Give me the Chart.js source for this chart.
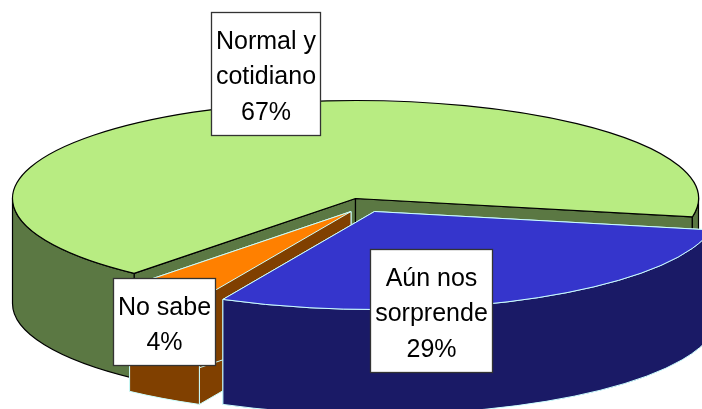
<!DOCTYPE html>
<html>
<head>
<meta charset="utf-8">
<style>html,body{margin:0;padding:0;background:#fff}canvas{display:block}</style>
<script src="https://cdn.jsdelivr.net/npm/chart.js@4"></script>
</head>
<body>
<canvas id="c" width="702" height="409"></canvas>
<script>
// Data
const categories = ['Normal y\ncotidiano', 'Aún nos\nsorprende', 'No sabe'];
const values = [66.85, 29.27, 3.88];

// Styles
const topColors = ['#B8EC82', '#3535CC', '#FF8000'];
const wallColors = ['#5B7843', '#1A1A66', '#804000'];
const lineColors = ['#000000', '#CCFFFF', '#CCFFFF'];
const lineWidths = [1.2, 1, 1];
const paintOrder = [0, 2, 1];

// 3D projection
const RADIUS = 343, SQUASH = 98 / 343, DEPTH = 105;
const explodeX = [0, 19, -4.5];
const explodeY = [0, 13, 13];

// Label boxes: left, top, width, height
const labelBoxes = [[211, 12, 110, 124], [370, 249, 123, 124], [113, 278, 103, 88]];

const pie3d = {
  id: 'pie3d',
  afterDatasetsUpdate(chart) {
    const arcs = chart.getDatasetMeta(0).data;
    arcs.forEach((arc, i) => {
      arc.baseY = arc.y;
      arc.x += explodeX[i];
      arc.y += explodeY[i] / SQUASH;
    });
  },
  beforeDatasetsDraw(chart) {
    const ctx = chart.ctx;
    const arcs = chart.getDatasetMeta(0).data;
    paintOrder.forEach(i => {
      const arc = arcs[i];
      const cy0 = arc.baseY;
      const R = arc.outerRadius, a0 = arc.startAngle, a1 = arc.endAngle;
      const sx = arc.x, sy = cy0 + (arc.y - cy0) * SQUASH, Ry = R * SQUASH;
      ctx.save();
      ctx.lineJoin = 'round';
      ctx.fillStyle = wallColors[i];
      ctx.strokeStyle = lineColors[i];
      ctx.lineWidth = lineWidths[i];
      // radial cut faces
      [a0, a1].forEach(a => {
        const px = sx + R * Math.cos(a), py = sy + Ry * Math.sin(a);
        ctx.beginPath();
        ctx.moveTo(sx, sy);
        ctx.lineTo(px, py);
        ctx.lineTo(px, py + DEPTH);
        ctx.lineTo(sx, sy + DEPTH);
        ctx.closePath();
        ctx.fill();
        ctx.stroke();
      });
      // outer wall: front half of the rim only
      for (let n = -1; n <= 2; n++) {
        const s = Math.max(a0, 2 * Math.PI * n);
        const e = Math.min(a1, 2 * Math.PI * n + Math.PI);
        if (e <= s) continue;
        ctx.beginPath();
        ctx.ellipse(sx, sy, R, Ry, 0, s, e);
        ctx.ellipse(sx, sy + DEPTH, R, Ry, 0, e, s, true);
        ctx.closePath();
        ctx.fill();
        ctx.stroke();
      }
      // top surface: the library's own arc under a squash transform
      ctx.save();
      ctx.translate(0, cy0);
      ctx.scale(1, SQUASH);
      ctx.translate(0, -cy0);
      arc.draw(ctx);
      ctx.restore();
      // top outline, in screen space for an even line width
      ctx.beginPath();
      ctx.moveTo(sx, sy);
      ctx.ellipse(sx, sy, R, Ry, 0, a0, a1);
      ctx.closePath();
      ctx.stroke();
      ctx.restore();
    });
    return false;
  },
  afterDraw(chart) {
    const ctx = chart.ctx;
    ctx.save();
    ctx.font = '25px "Liberation Sans", Arial, sans-serif';
    ctx.textAlign = 'center';
    ctx.textBaseline = 'alphabetic';
    labelBoxes.forEach((b, i) => {
      ctx.fillStyle = '#FFFFFF';
      ctx.strokeStyle = '#333333';
      ctx.lineWidth = 1.3;
      ctx.fillRect(b[0], b[1], b[2], b[3]);
      ctx.strokeRect(b[0] + 0.5, b[1] + 0.5, b[2] - 1, b[3] - 1);
      const lines = categories[i].split('\n').concat(Math.round(values[i]) + '%');
      ctx.fillStyle = '#000000';
      lines.forEach((t, j) => {
        ctx.fillText(t, b[0] + b[2] / 2, b[1] + 36.5 + j * 35.7);
      });
    });
    ctx.restore();
  }
};

new Chart(document.getElementById('c'), {
  type: 'pie',
  data: {
    labels: categories,
    datasets: [{
      data: values,
      backgroundColor: topColors,
      borderWidth: 0
    }]
  },
  options: {
    responsive: false,
    animation: false,
    rotation: 220.2,
    radius: RADIUS,
    layout: { padding: { left: 9, bottom: 12 } },
    plugins: { legend: { display: false }, tooltip: { enabled: false }, title: { display: false } }
  },
  plugins: [pie3d]
});
</script>
</body>
</html>
